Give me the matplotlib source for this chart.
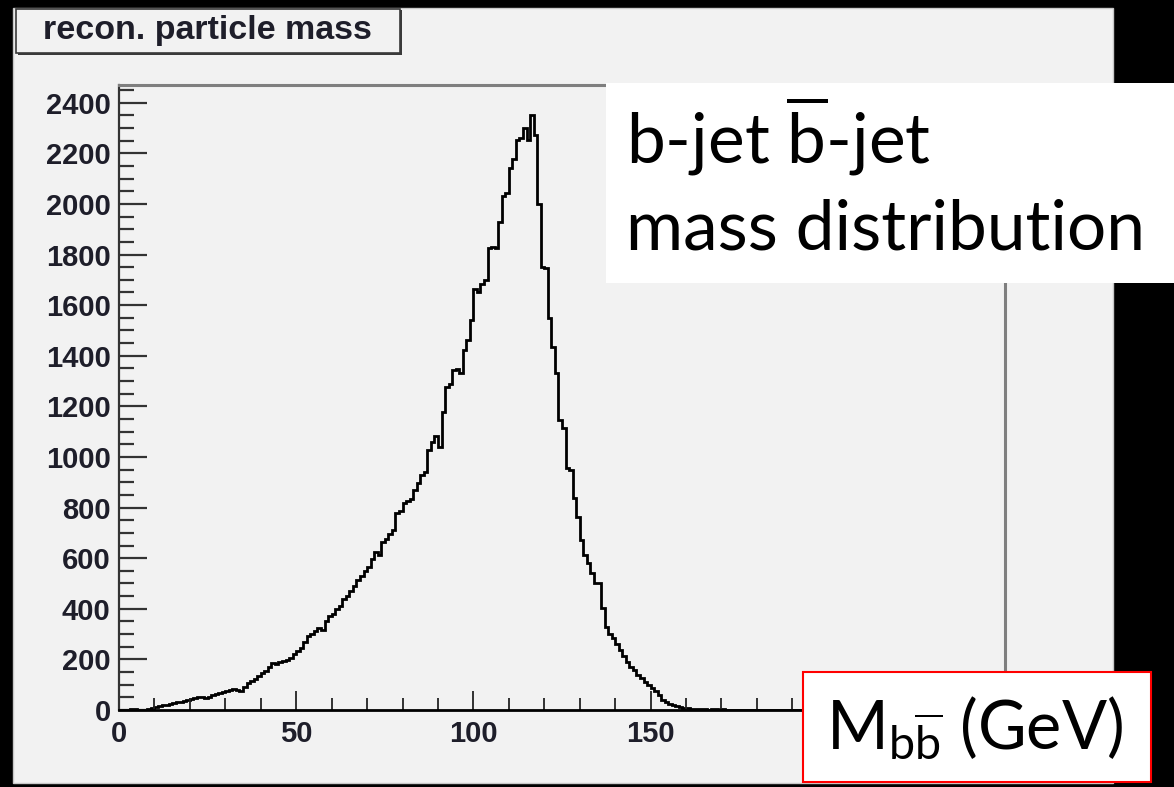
import numpy as np
import matplotlib
matplotlib.use("Agg")
import matplotlib.pyplot as plt
from matplotlib.patches import Rectangle
from matplotlib.ticker import MultipleLocator, FuncFormatter

# reconstructed b b-bar invariant mass, 1 GeV bins starting at 0
bin_edges = np.arange(0, 251, 1)
counts = [
    0, 0, 0, 2, 3, 0, 0, 1, 4, 6,
    10, 14, 18, 20, 24, 28, 30, 33, 36, 38,
    42, 48, 52, 50, 49, 52, 58, 62, 68, 72,
    76, 80, 84, 79, 76, 92, 108, 114, 122, 135,
    146, 154, 168, 186, 180, 188, 192, 196, 206, 222,
    232, 246, 268, 294, 300, 312, 324, 318, 350, 372,
    380, 398, 410, 440, 452, 470, 492, 514, 528, 548,
    566, 596, 626, 612, 662, 676, 694, 712, 778, 786,
    818, 826, 832, 868, 898, 930, 940, 1028, 1060, 1082,
    1040, 1178, 1276, 1290, 1344, 1348, 1332, 1424, 1464, 1542,
    1664, 1650, 1682, 1700, 1826, 1830, 1826, 1930, 2030, 2044,
    2142, 2176, 2254, 2262, 2302, 2254, 2352, 2274, 2000, 1750,
    1748, 1550, 1436, 1332, 1146, 1115, 957, 950, 838, 764,
    672, 613, 581, 540, 502, 502, 403, 328, 300, 285,
    260, 237, 214, 190, 170, 158, 140, 126, 110, 99,
    88, 74, 60, 40, 32, 24, 20, 14, 10, 8,
    6, 4, 3, 4, 2, 3, 1, 2, 3, 1,
    2, 1, 0, 0, 1, 0, 0, 0, 0, 0,
]
counts = counts + [0] * (len(bin_edges) - 1 - len(counts))

# only these x labels are left uncovered by the label box
shown_xlabels = [0, 50, 100, 150]

title = "recon. particle mass"
note_line1 = r"b-jet $\mathrm{\overline{b}}$-jet"
note_line2 = "mass distribution"
axis_note = r"M$_{\mathrm{b\overline{b}}}$ (GeV)"

W, H = 1174, 787
plt.rcParams["mathtext.fontset"] = "custom"
plt.rcParams["mathtext.rm"] = "Lato"
plt.rcParams["mathtext.it"] = "Lato:italic"
plt.rcParams["mathtext.bf"] = "Lato:bold"

fig = plt.figure(figsize=(W / 100, H / 100), dpi=100, facecolor="black")


def fx(px):
    return px / W


def fy(py):
    return 1 - py / H


# grey ROOT canvas
fig.add_artist(Rectangle((fx(13), fy(783)), fx(1113 - 13), (783 - 8) / H,
                         transform=fig.transFigure, facecolor="#f2f2f2",
                         edgecolor="#c8c8c8", lw=1, zorder=-5))

ax = fig.add_axes([fx(119), fy(710), fx(1005 - 119), (710 - 85) / H])
ax.set_facecolor("#f2f2f2")
ax.stairs(counts, bin_edges, color="black", lw=2)
ax.set_xlim(0, 250)
ax.set_ylim(0, 2470)

ax.xaxis.set_major_locator(MultipleLocator(50))
ax.xaxis.set_minor_locator(MultipleLocator(10))
ax.xaxis.set_major_formatter(
    FuncFormatter(lambda v, pos: f"{v:.0f}" if round(v) in shown_xlabels else ""))
ax.yaxis.set_major_locator(MultipleLocator(200))
ax.yaxis.set_minor_locator(MultipleLocator(50))
ax.tick_params(axis="y", which="major", direction="in", length=20, width=1.6,
               color="#333333", pad=6)
ax.tick_params(axis="y", which="minor", direction="in", length=11, width=1.6,
               color="#333333")
ax.tick_params(axis="x", which="major", direction="in", length=14, width=1.3,
               color="#222222", pad=7)
ax.tick_params(axis="x", which="minor", direction="in", length=8.5, width=1.3,
               color="#222222")
for lab in ax.get_xticklabels() + ax.get_yticklabels():
    lab.set_fontfamily("Liberation Sans")
    lab.set_fontweight("bold")
    lab.set_fontsize(21)
    lab.set_color("#1e1e2a")

ax.spines["left"].set_color("#333333")
ax.spines["left"].set_linewidth(1.6)
ax.spines["bottom"].set_color("black")
ax.spines["bottom"].set_linewidth(2)
for side in ("top", "right"):
    ax.spines[side].set_color("#7f7f7f")
    ax.spines[side].set_linewidth(2.2)

# title pave with shadow
fig.add_artist(Rectangle((fx(18), fy(55)), fx(400 - 16), (55 - 10) / H,
                         transform=fig.transFigure, facecolor="#3a3a3a",
                         edgecolor="none", zorder=2))
fig.add_artist(Rectangle((fx(16), fy(53)), fx(400 - 16), (53 - 9) / H,
                         transform=fig.transFigure, facecolor="#f2f2f2",
                         edgecolor="#3a3a3a", lw=1.2, zorder=3))
fig.text(fx(207), fy(31), title, ha="center", va="center", fontsize=24.5,
         fontfamily="Liberation Sans", fontweight="bold", color="#1e1e2a",
         zorder=4)

# white annotation box
fig.add_artist(Rectangle((fx(606), fy(283)), fx(W - 606), (283 - 83) / H,
                         transform=fig.transFigure, facecolor="white",
                         edgecolor="none", zorder=5))
fig.text(fx(626), fy(163), note_line1, ha="left", va="baseline", fontsize=50,
         fontfamily="Lato", color="black", zorder=6)
fig.text(fx(626), fy(250), note_line2, ha="left", va="baseline", fontsize=50,
         fontfamily="Lato", color="black", zorder=6)

# axis label box
fig.add_artist(Rectangle((fx(803), fy(782)), fx(1151 - 803), (782 - 672) / H,
                         transform=fig.transFigure, facecolor="white",
                         edgecolor="#ff0000", lw=1.5, zorder=5))
fig.text(fx(826), fy(750), axis_note, ha="left", va="baseline", fontsize=48,
         fontfamily="Lato", color="black", zorder=6)

fig.savefig("out.png", dpi=100, facecolor="black")
